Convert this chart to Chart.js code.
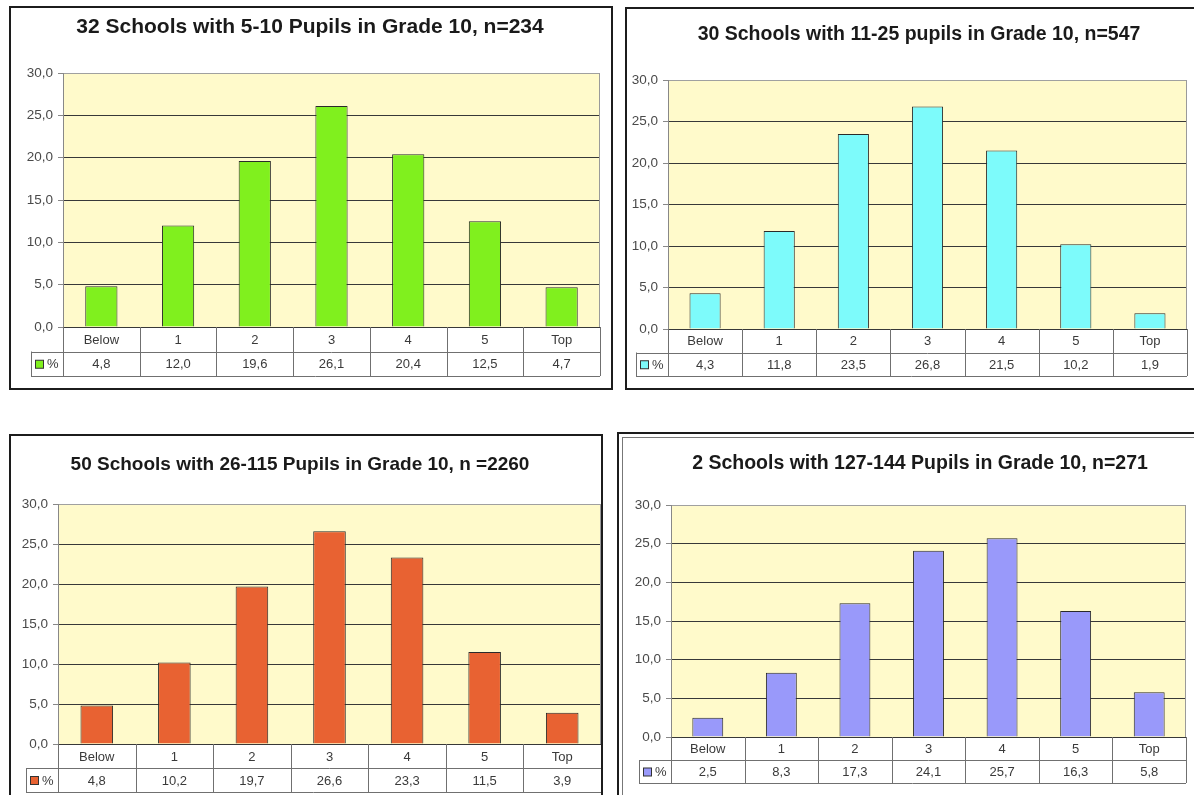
<!DOCTYPE html>
<html>
<head>
<meta charset="utf-8">
<script src="https://cdn.jsdelivr.net/npm/chart.js@4.4.1/dist/chart.umd.min.js"></script>
<style>
  body { margin: 0; width: 1194px; height: 795px; overflow: hidden; position: relative; background: #fff; }
  .frame { position: absolute; border: 2px solid #1c1c1c; background: #fff; }
  .inner { border: 1px solid #777; margin: 3px; }
  canvas { display: block; }
</style>
</head>
<body>
<div class="frame" style="left:9px;top:6px;width:600px;height:380px"><canvas id="c1" width="600" height="380"></canvas></div>
<div class="frame" style="left:625px;top:7px;width:600px;height:379px"><canvas id="c2" width="584" height="379"></canvas></div>
<div class="frame" style="left:9px;top:434px;width:590px;height:380px"><canvas id="c3" width="590" height="376"></canvas></div>
<div class="frame" style="left:617px;top:432px;width:610px;height:380px"><div class="inner"><canvas id="c4" width="594" height="360"></canvas></div></div>

<script>
// categories and tick labels
const categories = ['Below', '1', '2', '3', '4', '5', 'Top'];
const yTicks = [0, 5, 10, 15, 20, 25, 30];

// percent of pupils per level, one array per school size group
const pct5to10 = [4.8, 12.0, 19.6, 26.1, 20.4, 12.5, 4.7];
const pct11to25 = [4.3, 11.8, 23.5, 26.8, 21.5, 10.2, 1.9];
const pct26to115 = [4.8, 10.2, 19.7, 26.6, 23.3, 11.5, 3.9];
const pct127to144 = [2.5, 8.3, 17.3, 24.1, 25.7, 16.3, 5.8];

const titles = [
  '32 Schools with 5-10 Pupils in Grade 10, n=234',
  '30 Schools with 11-25 pupils in Grade 10, n=547',
  '50 Schools with 26-115 Pupils in Grade 10, n =2260',
  '2 Schools with 127-144 Pupils in Grade 10, n=271'
];
const seriesLabel = '%';

const FONT = 'Arial, "Liberation Sans", sans-serif';
Chart.defaults.font.family = FONT;

const fmt = v => v.toFixed(1).replace('.', ',');

// plot background, title and the data table under the bars
const excelTable = {
  id: 'excelTable',
  beforeDraw(chart) {
    const { ctx, chartArea: a } = chart;
    ctx.save();
    ctx.fillStyle = '#FFFACB';
    ctx.fillRect(a.left, a.top, a.right - a.left, a.bottom - a.top);
    ctx.restore();
  },
  afterDraw(chart, args, o) {
    const { ctx, chartArea: a } = chart;
    const xs = chart.scales.x;
    const ds = chart.data.datasets[0];
    const n = chart.data.labels.length;
    const step = (a.right - a.left) / n;
    const rowH = o.rowH;
    const y0 = a.bottom, y1 = y0 + rowH, y2 = y1 + rowH;
    const legL = a.left - 32;

    ctx.save();
    // title
    ctx.fillStyle = '#1a1a1a';
    ctx.font = 'bold ' + o.titleSize + 'px ' + FONT;
    ctx.textAlign = 'center';
    ctx.textBaseline = 'middle';
    ctx.fillText(o.title, o.titleX, o.titleY);

    // right edge of plot
    ctx.strokeStyle = '#9a9a9a';
    ctx.lineWidth = 1;
    ctx.beginPath();
    ctx.moveTo(Math.round(a.right) - 0.5, a.top);
    ctx.lineTo(Math.round(a.right) - 0.5, a.bottom);
    ctx.stroke();

    // table grid
    ctx.strokeStyle = '#707070';
    ctx.beginPath();
    ctx.moveTo(a.left, Math.round(y1) + 0.5); ctx.lineTo(a.right, Math.round(y1) + 0.5);
    ctx.moveTo(legL, Math.round(y1) + 0.5); ctx.lineTo(a.left, Math.round(y1) + 0.5);
    ctx.moveTo(legL, Math.round(y2) + 0.5); ctx.lineTo(a.right, Math.round(y2) + 0.5);
    ctx.moveTo(Math.round(legL) + 0.5, y1); ctx.lineTo(Math.round(legL) + 0.5, y2);
    for (let i = 0; i <= n; i++) {
      const x = Math.round(a.left + i * step) + 0.5;
      ctx.moveTo(x, y0); ctx.lineTo(x, y2);
    }
    ctx.stroke();

    // category labels and values
    ctx.fillStyle = '#3a3a3a';
    ctx.font = '13px ' + FONT;
    for (let i = 0; i < n; i++) {
      const cx = xs.getPixelForValue(i);
      ctx.fillText(chart.data.labels[i], cx, (y0 + y1) / 2 + 1);
      ctx.fillText(fmt(ds.data[i]), cx, (y1 + y2) / 2 + 1);
    }

    // legend key
    const ky = (y1 + y2) / 2;
    ctx.fillStyle = ds.backgroundColor;
    ctx.fillRect(legL + 4.5, ky - 3.5, 8, 8);
    ctx.strokeStyle = '#333';
    ctx.strokeRect(legL + 4.5, ky - 3.5, 8, 8);
    ctx.fillStyle = '#3a3a3a';
    ctx.textAlign = 'left';
    ctx.fillText(seriesLabel, legL + 16, ky + 1);
    ctx.restore();
  }
};

function makeChart(id, values, color, title, L) {
  new Chart(document.getElementById(id), {
    type: 'bar',
    data: {
      labels: categories,
      datasets: [{
        label: seriesLabel,
        data: values,
        backgroundColor: color,
        borderColor: '#2a2a2a',
        borderWidth: 1,
        barPercentage: 0.42,
        categoryPercentage: 1
      }]
    },
    options: {
      responsive: false,
      animation: false,
      events: [],
      layout: { padding: { left: 0, top: L.top, right: L.right, bottom: L.bottom } },
      plugins: {
        legend: { display: false },
        tooltip: { enabled: false },
        excelTable: { title: title, titleX: L.titleX, titleY: L.titleY, titleSize: L.titleSize, rowH: L.rowH }
      },
      scales: {
        x: { display: false },
        y: {
          min: yTicks[0],
          max: yTicks[yTicks.length - 1],
          afterFit: s => { s.width = L.left; },
          afterBuildTicks: s => { s.ticks = yTicks.map(v => ({ value: v })); },
          ticks: { color: '#4a4a4a', font: { size: 13.5 }, padding: 5, callback: v => fmt(v) },
          grid: {
            color: c => c.tick && c.tick.value === 30 ? '#a0a0a0' : '#383838',
            tickColor: '#888',
            tickLength: 5,
            lineWidth: 1
          },
          border: { color: '#888', width: 1 }
        }
      }
    },
    plugins: [excelTable]
  });
}

makeChart('c1', pct5to10, '#80F01E', titles[0],
  { left: 52, top: 65, right: 11, bottom: 61, titleX: 299, titleY: 19, titleSize: 21, rowH: 24.5 });
makeChart('c2', pct11to25, '#7DFBFB', titles[1],
  { left: 41, top: 71, right: 24, bottom: 59, titleX: 292, titleY: 26, titleSize: 19.5, rowH: 23.5 });
makeChart('c3', pct26to115, '#E86232', titles[2],
  { left: 47, top: 68, right: 0, bottom: 68, titleX: 289, titleY: 29, titleSize: 19, rowH: 24 });
makeChart('c4', pct127to144, '#9999FA', titles[3],
  { left: 48, top: 67, right: 31, bottom: 61, titleX: 297, titleY: 26, titleSize: 19.5, rowH: 23 });
</script>
</body>
</html>
